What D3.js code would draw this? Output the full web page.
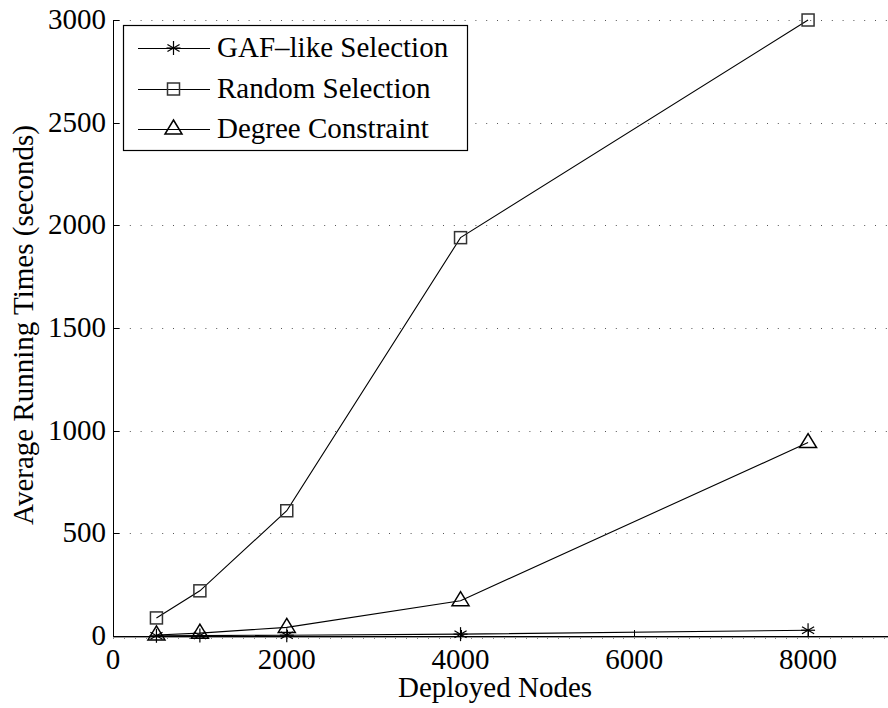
<!DOCTYPE html>
<html>
<head>
<meta charset="utf-8">
<script src="https://cdn.jsdelivr.net/npm/d3@7"></script>
</head>
<body style="margin:0">
<script>
// data
const nodes = [500, 1000, 2000, 4000, 8000];
const gafLike = [1, 2, 4, 9, 28];
const randomSel = [88, 220, 610, 1940, 3000];
const degreeCon = [5, 14, 42, 172, 942];
const seriesNames = ["GAF\u2013like Selection", "Random Selection", "Degree Constraint"];
const seriesMarkers = ["star", "square", "triangle"];
const xTicks = [0, 2000, 4000, 6000, 8000];
const yTicks = [0, 500, 1000, 1500, 2000, 2500, 3000];

(function () {
  const width = 888, height = 708, fs = 29, ff = "Times New Roman, Liberation Serif, serif";
  const svg = d3.select("body").append("svg")
    .attr("width", width).attr("height", height);

  const x = d3.scaleLinear().domain([0, 8920]).range([113, 888]);
  const y = d3.scaleLinear().domain([0, 3000]).range([636, 20]);

  const label = (sel) => sel.attr("font-family", ff).attr("font-size", fs);

  // dotted horizontal grid
  svg.append("g").selectAll("line")
    .data(yTicks.filter(d => d > 0))
    .enter().append("line")
    .attr("x1", x(0) + 6).attr("x2", width)
    .attr("y1", d => Math.round(y(d)) + 0.5).attr("y2", d => Math.round(y(d)) + 0.5)
    .attr("stroke", "#555").attr("stroke-width", 1)
    .attr("stroke-dasharray", "1,9.8");

  // minor ticks under the x axis
  svg.append("g").selectAll("line")
    .data(d3.range(0, 8920, 125))
    .enter().append("line")
    .attr("x1", d => Math.round(x(d)) + 0.5).attr("x2", d => Math.round(x(d)) + 0.5)
    .attr("y1", y(0)).attr("y2", y(0) + 3)
    .attr("stroke", "#888").attr("stroke-width", 1);

  // axes lines
  svg.append("line")
    .attr("x1", x(0) + 0.5).attr("x2", x(0) + 0.5)
    .attr("y1", y(3000)).attr("y2", y(0))
    .attr("stroke", "#000");
  svg.append("line")
    .attr("x1", x(0)).attr("x2", width)
    .attr("y1", y(0) + 0.5).attr("y2", y(0) + 0.5)
    .attr("stroke", "#000");
  svg.append("line")
    .attr("x1", x(0)).attr("x2", width)
    .attr("y1", y(0) + 1.5).attr("y2", y(0) + 1.5)
    .attr("stroke", "#999");

  // inward major ticks
  svg.append("g").selectAll("line")
    .data(yTicks)
    .enter().append("line")
    .attr("x1", x(0)).attr("x2", x(0) + 6)
    .attr("y1", d => Math.round(y(d)) + 0.5).attr("y2", d => Math.round(y(d)) + 0.5)
    .attr("stroke", "#000");
  svg.append("g").selectAll("line")
    .data(xTicks)
    .enter().append("line")
    .attr("x1", d => Math.round(x(d)) + 0.5).attr("x2", d => Math.round(x(d)) + 0.5)
    .attr("y1", y(0)).attr("y2", y(0) - 6)
    .attr("stroke", "#000");

  // tick labels
  svg.append("g").selectAll("text")
    .data(yTicks)
    .enter().append("text")
    .attr("x", x(0) - 7).attr("y", d => y(d) + 9)
    .attr("text-anchor", "end")
    .call(label)
    .text(d => d);
  svg.append("g").selectAll("text")
    .data(xTicks)
    .enter().append("text")
    .attr("x", d => x(d)).attr("y", 669)
    .attr("text-anchor", "middle")
    .call(label)
    .text(d => d);

  // axis titles
  svg.append("text")
    .attr("x", 495).attr("y", 697)
    .attr("text-anchor", "middle")
    .call(label)
    .text("Deployed Nodes");
  svg.append("text")
    .attr("transform", `translate(33,325) rotate(-90)`)
    .attr("text-anchor", "middle")
    .call(label)
    .text("Average Running Times (seconds)");

  function marker(g, type, cx, cy) {
    if (type === "star") {
      const r = 7;
      [0, 60, 120].forEach(a => {
        const t = a * Math.PI / 180;
        g.append("line")
          .attr("x1", cx - r * Math.sin(t)).attr("y1", cy - r * Math.cos(t))
          .attr("x2", cx + r * Math.sin(t)).attr("y2", cy + r * Math.cos(t))
          .attr("stroke", "#000").attr("stroke-width", 1.2);
      });
      g.append("line")
        .attr("x1", cx - r).attr("x2", cx + r).attr("y1", cy).attr("y2", cy)
        .attr("stroke", "#000").attr("stroke-width", 1.2);
    } else if (type === "square") {
      g.append("rect")
        .attr("x", cx - 6).attr("y", cy - 6).attr("width", 12).attr("height", 12)
        .attr("fill", "none").attr("stroke", "#333").attr("stroke-width", 1.5);
    } else {
      g.append("path")
        .attr("d", `M${cx},${cy - 9}L${cx + 8.5},${cy + 5}L${cx - 8.5},${cy + 5}Z`)
        .attr("fill", "none").attr("stroke", "#000").attr("stroke-width", 1.5);
    }
  }

  const line = d3.line().x(d => x(d[0])).y(d => y(d[1]));
  const allSeries = [gafLike, randomSel, degreeCon];

  allSeries.forEach((vals, i) => {
    const pts = nodes.map((n, j) => [n, vals[j]]);
    svg.append("path")
      .attr("d", line(pts))
      .attr("fill", "none").attr("stroke", "#000").attr("stroke-width", 1.1);
    const g = svg.append("g");
    pts.forEach(p => marker(g, seriesMarkers[i], x(p[0]), y(p[1])));
  });

  // legend
  const lg = svg.append("g");
  lg.append("rect")
    .attr("x", 123.5).attr("y", 25.5).attr("width", 344).attr("height", 125)
    .attr("fill", "#fff").attr("stroke", "#000").attr("stroke-width", 1.2);
  const rowY = [48, 89, 129];
  seriesNames.forEach((name, i) => {
    lg.append("line")
      .attr("x1", 138).attr("x2", 210).attr("y1", rowY[i] + 0.5).attr("y2", rowY[i] + 0.5)
      .attr("stroke", "#000");
    marker(lg, seriesMarkers[i], 173.5, rowY[i]);
    lg.append("text")
      .attr("x", 217).attr("y", rowY[i] + 9)
      .call(label)
      .text(name);
  });
})();
</script>
</body>
</html>
